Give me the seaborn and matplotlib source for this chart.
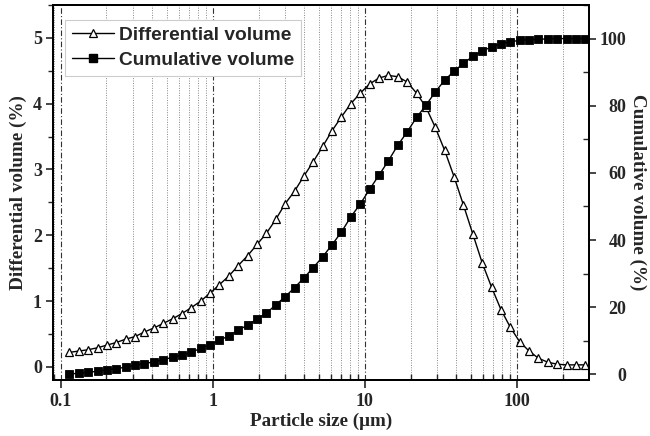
import numpy as np
import matplotlib
matplotlib.use("Agg")
import matplotlib.pyplot as plt
import seaborn as sns
from matplotlib.ticker import LogLocator, FixedLocator, MultipleLocator, NullFormatter
from matplotlib.lines import Line2D

# Particle size bins (µm)
particle_size = [0.1140, 0.1314, 0.1515, 0.1746, 0.2012, 0.2319, 0.2673, 0.3082, 0.3552, 0.4095,
                 0.4721, 0.5441, 0.6272, 0.7229, 0.8333, 0.9605, 1.107, 1.276, 1.471, 1.696,
                 1.954, 2.253, 2.597, 2.993, 3.450, 3.977, 4.584, 5.284, 6.091, 7.021,
                 8.091, 9.327, 10.75, 12.39, 14.29, 16.46, 18.98, 21.88, 25.21, 29.06,
                 33.50, 38.62, 44.50, 51.30, 59.14, 68.16, 78.56, 90.56, 104.4, 120.3,
                 138.7, 159.9, 184.3, 212.4, 244.9, 282.2]

differential = [0.22, 0.24, 0.26, 0.29, 0.33, 0.37, 0.42, 0.46, 0.53, 0.59,
                0.66, 0.73, 0.81, 0.90, 1.00, 1.12, 1.25, 1.38, 1.54, 1.69,
                1.86, 2.03, 2.24, 2.48, 2.67, 2.90, 3.12, 3.35, 3.59, 3.80,
                4.00, 4.16, 4.30, 4.39, 4.43, 4.41, 4.33, 4.16, 3.95, 3.64,
                3.29, 2.89, 2.46, 2.02, 1.58, 1.21, 0.87, 0.60, 0.38, 0.24,
                0.13, 0.07, 0.04, 0.03, 0.03, 0.03]

cumulative = [0.1, 0.3, 0.6, 0.9, 1.3, 1.7, 2.1, 2.7, 3.2, 3.7,
              4.3, 5.1, 5.7, 6.6, 7.7, 8.8, 10.2, 11.4, 13.2, 14.6,
              16.5, 18.2, 20.7, 23.1, 25.8, 28.7, 31.8, 35.0, 38.6, 42.4,
              46.9, 50.7, 55.1, 59.3, 63.6, 68.2, 72.2, 76.5, 80.1, 84.1,
              87.6, 90.3, 92.6, 94.7, 96.3, 97.5, 98.5, 99.0, 99.5, 99.7,
              99.8, 99.9, 100.0, 100.0, 100.0, 100.0]

x_ticks = [0.1, 1, 10, 100]
x_tick_labels = ["0.1", "1", "10", "100"]
series_labels = ["Differential volume", "Cumulative volume"]

sns.set_style("ticks")
plt.rcParams['font.family'] = ['Liberation Serif', 'DejaVu Serif']

fig = plt.figure(figsize=(6.5, 4.36), dpi=100)
ax = fig.add_axes([53/650, 56/436, 536/650, 375/436])
ax2 = ax.twinx()

sns.lineplot(x=particle_size, y=differential, ax=ax, color="black", linewidth=1.0,
             marker="^", markersize=6.2, markerfacecolor="white", markeredgecolor="black",
             markeredgewidth=0.9, zorder=3)
sns.lineplot(x=particle_size, y=cumulative, ax=ax2, color="black", linewidth=1.0,
             marker="s", markersize=5.2, markerfacecolor="black", markeredgecolor="black",
             markeredgewidth=0.6, zorder=3)

ax.set_xscale("log")
ax.set_xlim(0.089, 298)
ax.set_ylim(-0.2, 5.5)
ax2.set_ylim(-1.7, 110)

ax.xaxis.set_major_locator(FixedLocator(x_ticks))
ax.set_xticklabels(x_tick_labels)
ax.xaxis.set_minor_locator(LogLocator(base=10, subs=np.arange(2, 10)))
ax.xaxis.set_minor_formatter(NullFormatter())

ax.yaxis.set_major_locator(MultipleLocator(1))
ax.yaxis.set_minor_locator(MultipleLocator(0.5))
ax2.yaxis.set_major_locator(MultipleLocator(20))
ax2.yaxis.set_minor_locator(MultipleLocator(10))

# grid
ax.grid(which="major", axis="x", linestyle=(0, (5, 2, 1, 2)), color="#333333", linewidth=0.8)
ax.grid(which="minor", axis="x", linestyle=(0, (1, 1.5)), color="#888888", linewidth=0.7)
ax.grid(False, axis="y")
ax2.grid(False)
ax.set_axisbelow(True)

for a in (ax, ax2):
    for s in a.spines.values():
        s.set_visible(True)
        s.set_linewidth(1.4)
        s.set_color("black")

ax.tick_params(axis="x", which="major", direction="out", length=6, width=1.2, labelsize=13, pad=3)
ax.tick_params(axis="x", which="minor", direction="in", length=4, width=1.0)
ax.tick_params(axis="y", which="major", direction="out", length=5, width=1.2, labelsize=13, pad=3)
ax.tick_params(axis="y", which="minor", direction="out", length=3.5, width=1.0)
ax2.tick_params(axis="y", which="major", direction="out", length=5, width=1.2, labelsize=13, pad=22)
ax2.tick_params(axis="y", which="minor", direction="in", length=4, width=1.0)

for lab in ax.get_xticklabels() + ax.get_yticklabels():
    lab.set_fontweight("bold")
for lab in ax2.get_yticklabels():
    lab.set_fontweight("bold")
    lab.set_horizontalalignment("right")

ax.set_xlabel("Particle size (\u03bcm)", fontsize=13.8, fontweight="bold", labelpad=2)
ax.set_ylabel("Differential volume (%)", fontsize=13.8, fontweight="bold", labelpad=4)
ax2.set_ylabel("Cumulative volume (%)", fontsize=13.8, fontweight="bold", rotation=270, labelpad=14)

handles = [
    Line2D([], [], color="black", linewidth=1.0, marker="^", markersize=6.2,
           markerfacecolor="white", markeredgecolor="black", markeredgewidth=0.9),
    Line2D([], [], color="black", linewidth=1.0, marker="s", markersize=5.2,
           markerfacecolor="black", markeredgecolor="black"),
]
leg = ax2.legend(handles, series_labels, loc="upper left", bbox_to_anchor=(0.022, 0.96),
                 prop={"family": "Liberation Sans", "weight": "bold", "size": 13.8},
                 frameon=True, fancybox=False, edgecolor="#cccccc", framealpha=1,
                 handlelength=2.2, handletextpad=0.3, borderpad=0.35, labelspacing=0.4,
                 borderaxespad=0)
leg.get_frame().set_linewidth(0.8)

fig.savefig("out.png", dpi=100)
